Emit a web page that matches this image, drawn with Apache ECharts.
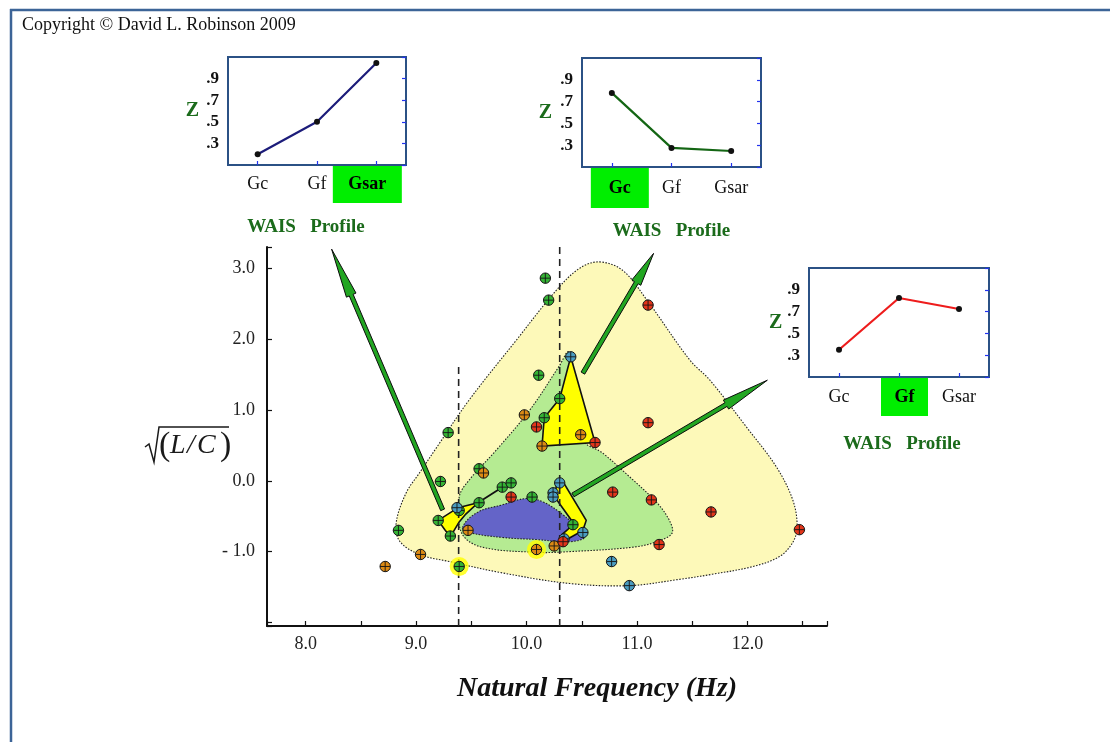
<!DOCTYPE html>
<html>
<head>
<meta charset="utf-8">
<script src="https://cdn.jsdelivr.net/npm/echarts@6/dist/echarts.min.js"></script>
<style>
  html, body { margin: 0; padding: 0; background: #ffffff; }
  #chart { width: 1110px; height: 742px; }
</style>
</head>
<body>
<div id="chart"></div>
<script>
// ---- Subjects: natural frequency (Hz) vs sqrt(L/C), grouped by WAIS profile ----
const greenX = [9.29, 10.17, 10.20, 10.11, 10.30, 10.16, 9.57, 9.22, 9.78, 9.86, 10.05, 9.57, 9.39, 9.20, 9.31, 8.84, 10.42, 9.39];
const greenY = [0.68, 2.86, 2.55, 1.49, 1.16, 0.89, 0.17, -0.01, -0.09, -0.03, -0.23, -0.31, -0.42, -0.56, -0.78, -0.70, -0.62, -1.21];
const blueX = [10.40, 10.30, 10.24, 10.24, 9.37, 10.51, 10.34, 10.77, 10.93];
const blueY = [1.75, -0.03, -0.17, -0.23, -0.38, -0.73, -0.82, -1.14, -1.48];
const orangeX = [9.98, 10.14, 10.49, 9.61, 9.47, 10.25, 10.09, 9.04, 8.72];
const orangeY = [0.93, 0.49, 0.65, 0.11, -0.70, -0.92, -0.97, -1.04, -1.21];
const redX = [10.09, 10.62, 11.10, 11.10, 9.86, 10.33, 10.78, 11.13, 11.20, 11.67, 12.47];
const redY = [0.76, 0.54, 2.48, 0.82, -0.23, -0.86, -0.16, -0.27, -0.90, -0.44, -0.69];

// highlighted subjects
const haloX = [9.39, 10.09];
const haloY = [-1.21, -0.97];

// ---- Density envelopes ----
const outerX = [10.66, 10.87, 11.09, 11.48, 11.66, 11.99, 12.26, 12.41, 12.45, 12.41, 12.29, 12.05, 11.68, 11.39, 10.93, 10.39, 9.78, 9.30, 9.03, 8.85, 8.82, 8.91, 9.03, 9.19, 9.48, 9.91, 10.27, 10.48];
const outerY = [3.09, 2.97, 2.55, 1.70, 1.42, 0.76, 0.20, -0.27, -0.65, -0.87, -1.07, -1.21, -1.32, -1.39, -1.48, -1.45, -1.30, -1.14, -1.04, -0.85, -0.59, -0.17, 0.11, 0.48, 1.14, 1.99, 2.69, 3.00];
const midX = [10.38, 10.44, 10.51, 10.69, 10.93, 11.18, 11.29, 11.32, 11.23, 11.00, 10.39, 10.09, 9.58, 9.41, 9.39, 9.48, 9.73, 10.03, 10.30];
const midY = [1.82, 1.42, 0.58, 0.39, 0.06, -0.31, -0.55, -0.73, -0.83, -0.93, -1.00, -1.01, -0.93, -0.73, -0.23, 0.01, 0.44, 1.00, 1.63];
const coreX = [9.42, 9.55, 9.78, 10.00, 10.15, 10.33, 10.45, 10.53, 10.39, 10.09, 9.78, 9.48];
const coreY = [-0.66, -0.45, -0.34, -0.25, -0.30, -0.48, -0.65, -0.79, -0.86, -0.83, -0.80, -0.73];

// ---- Profile hulls ----
const hullAX = [10.40, 10.62, 10.14, 10.16, 10.30];
const hullAY = [1.75, 0.54, 0.49, 0.89, 1.16];
const hullBX = [9.20, 9.38, 9.56, 9.45, 9.39, 9.31, 9.26];
const hullBY = [-0.56, -0.38, -0.31, -0.47, -0.58, -0.79, -0.69];
const hullCX = [10.27, 10.34, 10.54, 10.51, 10.34, 10.32, 10.43, 10.26];
const hullCY = [-0.04, -0.04, -0.56, -0.70, -0.85, -0.76, -0.61, -0.24];
const chainX = [9.56, 9.78, 9.86];
const chainY = [-0.31, -0.09, -0.03];

// ---- Reference frequencies (dashed verticals) ----
const refFreq = [9.385, 10.30];
const refTop = [1.63, 3.30];

// ---- Arrows from hulls to the profile panels ----
const arrowTailX = [9.24, 10.51, 10.42];
const arrowTailY = [-0.41, 1.52, -0.20];
const arrowTipX = [8.235, 11.15, 12.18];
const arrowTipY = [3.27, 3.21, 1.42];

// ---- WAIS profile panels ----
const profileCats = ['Gc', 'Gf', 'Gsar'];
const profileGsar = [0.20, 0.50, 1.045];
const profileGc = [0.78, 0.275, 0.247];
const profileGf = [0.35, 0.825, 0.724];
const profileHighlight = [2, 0, 1];

const SERIF = 'Liberation Serif';
const X_MIN = 7.65, X_MAX = 12.72, Y_MIN = -2.05, Y_MAX = 3.30;

const chart = echarts.init(document.getElementById('chart'), null, { renderer: 'canvas' });

function pts(xs, ys) { return xs.map((x, i) => [x, ys[i]]); }

function polygonSeries(xs, ys, style, smooth, z) {
  return {
    type: 'custom', coordinateSystem: 'cartesian2d', xAxisIndex: 0, yAxisIndex: 0,
    data: [[xs[0], ys[0]]], encode: { x: 0, y: 1 }, z: z, silent: true, clip: false,
    renderItem: (params, api) => ({
      type: 'polygon',
      shape: { points: xs.map((x, i) => api.coord([x, ys[i]])), smooth: smooth },
      style: style
    })
  };
}

function markerSeries(xs, ys, fill) {
  return {
    type: 'custom', coordinateSystem: 'cartesian2d', xAxisIndex: 0, yAxisIndex: 0,
    data: pts(xs, ys), encode: { x: 0, y: 1 }, z: 20, silent: true, clip: false,
    renderItem: (params, api) => {
      const p = api.coord([api.value(0), api.value(1)]);
      const r = 5.2;
      return {
        type: 'group', children: [
          { type: 'circle', shape: { cx: p[0], cy: p[1], r: r }, style: { fill: fill, stroke: '#151515', lineWidth: 1 } },
          { type: 'line', shape: { x1: p[0] - r, y1: p[1], x2: p[0] + r, y2: p[1] }, style: { stroke: '#151515', lineWidth: 0.9 } },
          { type: 'line', shape: { x1: p[0], y1: p[1] - r, x2: p[0], y2: p[1] + r }, style: { stroke: '#151515', lineWidth: 0.9 } }
        ]
      };
    }
  };
}

const headLens = [50, 34, 48];
const arrowSeries = {
  type: 'custom', coordinateSystem: 'cartesian2d', xAxisIndex: 0, yAxisIndex: 0,
  data: arrowTailX.map((x, i) => [x, arrowTailY[i], arrowTipX[i], arrowTipY[i]]),
  encode: { x: [0, 2], y: [1, 3] }, z: 15, silent: true, clip: false,
  renderItem: (params, api) => {
    const a = api.coord([api.value(0), api.value(1)]);
    const b = api.coord([api.value(2), api.value(3)]);
    const dx = b[0] - a[0], dy = b[1] - a[1], L = Math.hypot(dx, dy);
    const ux = dx / L, uy = dy / L, nx = -uy, ny = ux;
    const h = headLens[params.dataIndex], w = 2.1, hw = 5.2;
    const bx = b[0] - ux * h, by = b[1] - uy * h;
    return {
      type: 'polygon',
      shape: { points: [
        [a[0] + nx * w, a[1] + ny * w], [bx + nx * w, by + ny * w], [bx + nx * hw, by + ny * hw],
        [b[0], b[1]],
        [bx - nx * hw, by - ny * hw], [bx - nx * w, by - ny * w], [a[0] - nx * w, a[1] - ny * w]
      ] },
      style: { fill: '#22a622', stroke: '#0c0c0c', lineWidth: 1 }
    };
  }
};

// ---- panel layout ----
const panels = [
  { grid: { left: 228, top: 57, width: 178, height: 108 }, values: profileGsar, color: '#1c1c7a', hlW: 69, hlH: 37, shift: -18, nameGap: 53, namePad: [0, 22, 0, 0], zGap: 29 },
  { grid: { left: 582, top: 58, width: 179, height: 109 }, values: profileGc, color: '#146614', hlW: 58, hlH: 40, shift: 16, nameGap: 55, namePad: [0, 0, 0, 0], zGap: 30 },
  { grid: { left: 809, top: 268, width: 180, height: 109 }, values: profileGf, color: '#ee1c1c', hlW: 47, hlH: 38, shift: 11, nameGap: 58, namePad: [0, 0, 0, 6], zGap: 25 }
];

const grids = [{ left: 267, right: 283, top: 247, bottom: 116, show: false }];
const xAxes = [{
  type: 'value', gridIndex: 0, min: X_MIN, max: X_MAX, minInterval: 0.5, maxInterval: 0.5,
  axisLine: { show: true, onZero: false, lineStyle: { color: '#111', width: 2 } },
  axisTick: { show: true, inside: true, length: 5, lineStyle: { color: '#111', width: 1.2 } },
  splitLine: { show: false },
  axisLabel: {
    margin: 9, color: '#222', fontFamily: SERIF, fontSize: 18,
    formatter: v => Math.abs(v - Math.round(v)) < 1e-6 ? v.toFixed(1) : ''
  },
  name: 'Natural Frequency (Hz)', nameLocation: 'middle', nameGap: 49,
  nameTextStyle: { fontFamily: SERIF, fontSize: 28, fontWeight: 'bold', fontStyle: 'italic', color: '#111', padding: [0, 0, 0, 100] }
}];
const yAxes = [{
  type: 'value', gridIndex: 0, min: Y_MIN, max: Y_MAX, minInterval: 1, maxInterval: 1,
  axisLine: { show: true, onZero: false, lineStyle: { color: '#111', width: 2 } },
  axisTick: { show: true, inside: true, length: 5, lineStyle: { color: '#111', width: 1.2 } },
  splitLine: { show: false },
  axisLabel: {
    margin: 12, color: '#222', fontFamily: SERIF, fontSize: 18,
    formatter: v => {
      if (Math.abs(v - Math.round(v)) > 1e-6 || v < -1.5) return '';
      return v < -0.5 ? '- ' + Math.abs(v).toFixed(1) : Math.abs(v).toFixed(1);
    }
  }
}];

const series = [
  polygonSeries(outerX, outerY, { fill: '#fdf9b9', stroke: '#222', lineWidth: 1.1, lineDash: [1.5, 1.5] }, 0.35, 1),
  polygonSeries(midX, midY, { fill: '#b5eb92', stroke: '#222', lineWidth: 1.1, lineDash: [1.5, 1.5] }, 0.35, 2),
  polygonSeries(coreX, coreY, { fill: '#6464c8', stroke: '#222', lineWidth: 1.1, lineDash: [1.5, 1.5] }, 0.4, 3),
  polygonSeries(hullAX, hullAY, { fill: '#ffff00', stroke: '#111', lineWidth: 1.6 }, 0, 4),
  polygonSeries(hullBX, hullBY, { fill: '#ffff00', stroke: '#111', lineWidth: 1.6 }, 0, 4),
  polygonSeries(hullCX, hullCY, { fill: '#ffff00', stroke: '#111', lineWidth: 1.6 }, 0, 4),
  {
    type: 'line', xAxisIndex: 0, yAxisIndex: 0, data: pts(chainX, chainY), symbol: 'none', z: 5,
    lineStyle: { color: '#111', width: 1.8 }, silent: true
  }
];

refFreq.forEach((f, i) => {
  series.push({
    type: 'line', xAxisIndex: 0, yAxisIndex: 0, data: [[f, Y_MIN], [f, refTop[i]]], symbol: 'none', z: 6,
    lineStyle: { color: '#222', width: 1.6, type: [7, 5] }, silent: true
  });
});

series.push(arrowSeries);
series.push({
  type: 'scatter', xAxisIndex: 0, yAxisIndex: 0, data: pts(haloX, haloY), symbol: 'circle', symbolSize: 19, z: 18,
  itemStyle: { color: '#ffff00' }, silent: true
});
series.push(markerSeries(greenX, greenY, '#34b334'));
series.push(markerSeries(blueX, blueY, '#4a9cc0'));
series.push(markerSeries(orangeX, orangeY, '#dc8a14'));
series.push(markerSeries(redX, redY, '#e2351a'));

panels.forEach((p, k) => {
  const gi = k + 1;
  grids.push(Object.assign({ show: true, borderColor: '#2b5185', borderWidth: 2, backgroundColor: '#ffffff' }, p.grid));
  const hl = profileHighlight[k];
  const sp = Math.abs(p.shift);
  xAxes.push({
    type: 'category', gridIndex: gi, data: profileCats, boundaryGap: true,
    axisLine: { show: false },
    axisTick: { show: true, inside: true, alignWithLabel: true, length: 4, lineStyle: { color: '#2233ee', width: 1.2 } },
    axisLabel: {
      interval: 0, margin: 1,
      formatter: (v, i) => {
        if (i !== hl) return '{n|' + v + '}';
        // spacer token nudges the highlighted box off the tick centre
        return p.shift < 0 ? '{hl|' + v + '}{sp| }' : '{sp| }{hl|' + v + '}';
      },
      rich: {
        n: { fontFamily: SERIF, fontSize: 18, color: '#111', height: p.hlH, lineHeight: p.hlH },
        sp: { fontSize: 18, width: sp, height: p.hlH, lineHeight: p.hlH },
        hl: { fontFamily: SERIF, fontSize: 18, fontWeight: 'bold', color: '#000', backgroundColor: '#00ee00',
              width: p.hlW, height: p.hlH, lineHeight: p.hlH, align: 'center' }
      }
    },
    name: 'WAIS   Profile', nameLocation: 'middle', nameGap: p.nameGap,
    nameTextStyle: { fontFamily: SERIF, fontSize: 19, fontWeight: 'bold', color: '#1b6b1b', padding: p.namePad }
  });
  yAxes.push({
    type: 'value', gridIndex: gi, min: 0.1, max: 1.1, interval: 0.2, position: 'left',
    axisLine: { show: false }, axisTick: { show: false }, splitLine: { show: false },
    axisLabel: {
      margin: 9, fontFamily: SERIF, fontSize: 17, fontWeight: 'bold', color: '#111',
      formatter: v => (v < 0.2 || v > 1.0) ? '' : v.toFixed(1).slice(1)
    },
    name: 'Z', nameLocation: 'middle', nameRotate: 0, nameGap: p.zGap,
    nameTextStyle: { fontFamily: SERIF, fontSize: 20, fontWeight: 'bold', color: '#1b6b1b' }
  });
  yAxes.push({
    type: 'value', gridIndex: gi, min: 0.1, max: 1.1, interval: 0.2, position: 'right',
    axisLine: { show: false }, splitLine: { show: false }, axisLabel: { show: false },
    axisTick: { show: true, inside: true, length: 4, lineStyle: { color: '#2233ee', width: 1.2 } }
  });
  series.push({
    type: 'line', xAxisIndex: gi, yAxisIndex: 2 * k + 1, data: p.values, z: 10,
    symbol: 'circle', symbolSize: 6, itemStyle: { color: '#111' },
    lineStyle: { color: p.color, width: 2.2 }, silent: true
  });
});

const option = {
  animation: false,
  backgroundColor: '#ffffff',
  grid: grids,
  xAxis: xAxes,
  yAxis: yAxes,
  series: series,
  graphic: [
    { type: 'line', shape: { x1: 10, y1: 10, x2: 1110, y2: 10 }, style: { stroke: '#3c6497', lineWidth: 2.5 }, z: 50 },
    { type: 'line', shape: { x1: 11, y1: 9, x2: 11, y2: 742 }, style: { stroke: '#3c6497', lineWidth: 2.5 }, z: 50 },
    { type: 'text', left: 22, top: 16, style: { text: 'Copyright \u00A9 David L. Robinson 2009', font: '18px "Liberation Serif"', fill: '#111' }, z: 50 },
    // y-axis title: square root of (L / C)
    { type: 'polyline', shape: { points: [[145, 447], [149, 444], [154, 462], [159, 427], [229, 427]] }, style: { stroke: '#1a1a1a', lineWidth: 1.5, fill: null }, z: 50 },
    { type: 'text', x: 159, y: 429, style: { text: '(', font: '34px "Liberation Serif"', fill: '#1a1a1a' }, z: 50 },
    { type: 'text', x: 170, y: 432, style: { text: 'L', font: 'italic 28px "Liberation Serif"', fill: '#1a1a1a' }, z: 50 },
    { type: 'text', x: 187, y: 432, style: { text: '/', font: 'italic 28px "Liberation Serif"', fill: '#1a1a1a' }, z: 50 },
    { type: 'text', x: 197, y: 432, style: { text: 'C', font: 'italic 28px "Liberation Serif"', fill: '#1a1a1a' }, z: 50 },
    { type: 'text', x: 220, y: 429, style: { text: ')', font: '34px "Liberation Serif"', fill: '#1a1a1a' }, z: 50 }
  ]
};

chart.setOption(option);
</script>
</body>
</html>
